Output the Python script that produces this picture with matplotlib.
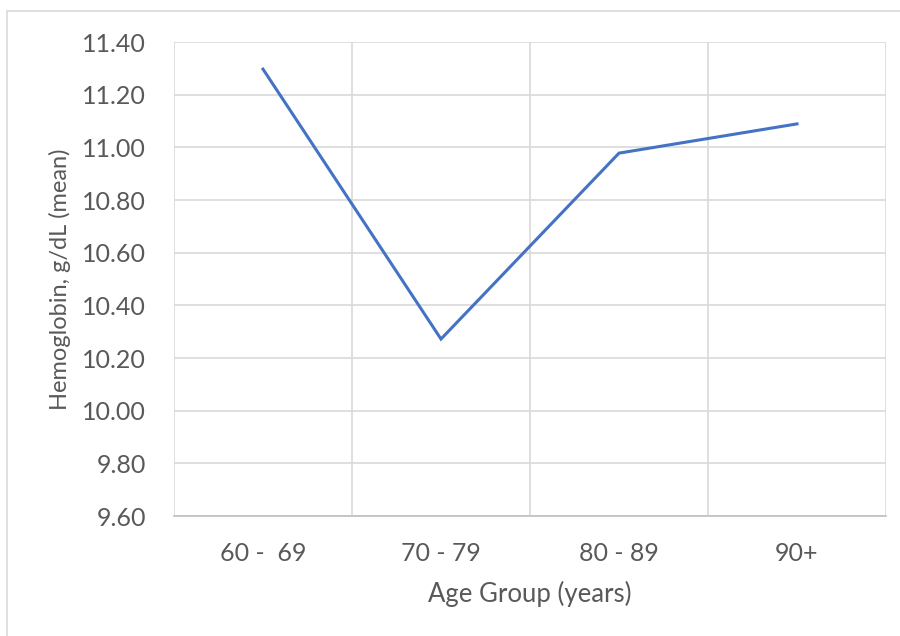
import matplotlib
matplotlib.use("Agg")
import matplotlib.pyplot as plt
from matplotlib.patches import Rectangle

categories = ["60 -  69", "70 - 79", "80 - 89", "90+"]
hemoglobin = [11.297, 10.272, 10.978, 11.089]
y_ticks = [9.60, 9.80, 10.00, 10.20, 10.40, 10.60, 10.80, 11.00, 11.20, 11.40]

plt.rcParams['font.family'] = ['Lato', 'DejaVu Sans']
text_color = '#595959'
grid_color = '#d9d9d9'

fig = plt.figure(figsize=(9, 6.36), dpi=100)
fig.patch.set_facecolor('white')

# outer chart border (left/top visible)
fig.patches.append(Rectangle((7/900, -0.05), 1.2, 1 - 11/636 + 0.05,
                             transform=fig.transFigure, fill=False,
                             edgecolor='#d9d9d9', linewidth=1.2, zorder=0))

ax = fig.add_axes([174/900, 1 - 516/636, (886 - 174)/900, (516 - 42)/636])
x = list(range(len(categories)))
ax.plot(x, hemoglobin, color='#4472c4', linewidth=2.2, solid_joinstyle='miter', zorder=3)

ax.set_xlim(-0.5, len(categories) - 0.5)
ax.set_ylim(9.60, 11.40)
ax.set_yticks(y_ticks)
ax.set_yticklabels([f"{v:.2f}" for v in y_ticks])
ax.set_xticks(x)
ax.set_xticklabels(categories)

# vertical gridlines at category boundaries
ax.set_xticks([i - 0.5 for i in range(len(categories) + 1)], minor=True)
ax.grid(True, which='minor', axis='x', color=grid_color, linewidth=1.2)
ax.grid(True, which='major', axis='y', color=grid_color, linewidth=1.2)
ax.grid(False, which='major', axis='x')
ax.set_axisbelow(True)

for side in ['top', 'right', 'left']:
    ax.spines[side].set_visible(False)
ax.spines['bottom'].set_color('#bfbfbf')
ax.spines['bottom'].set_linewidth(1.2)

ax.tick_params(axis='both', which='both', length=0, labelsize=18, colors=text_color)
ax.tick_params(axis='x', pad=19)
ax.tick_params(axis='y', pad=20)

ax.set_xlabel("Age Group (years)", fontsize=18.5, color=text_color, labelpad=11)
ax.set_ylabel("Hemoglobin, g/dL (mean)", fontsize=17, color=text_color, labelpad=8)

fig.savefig("out.png", dpi=100)
